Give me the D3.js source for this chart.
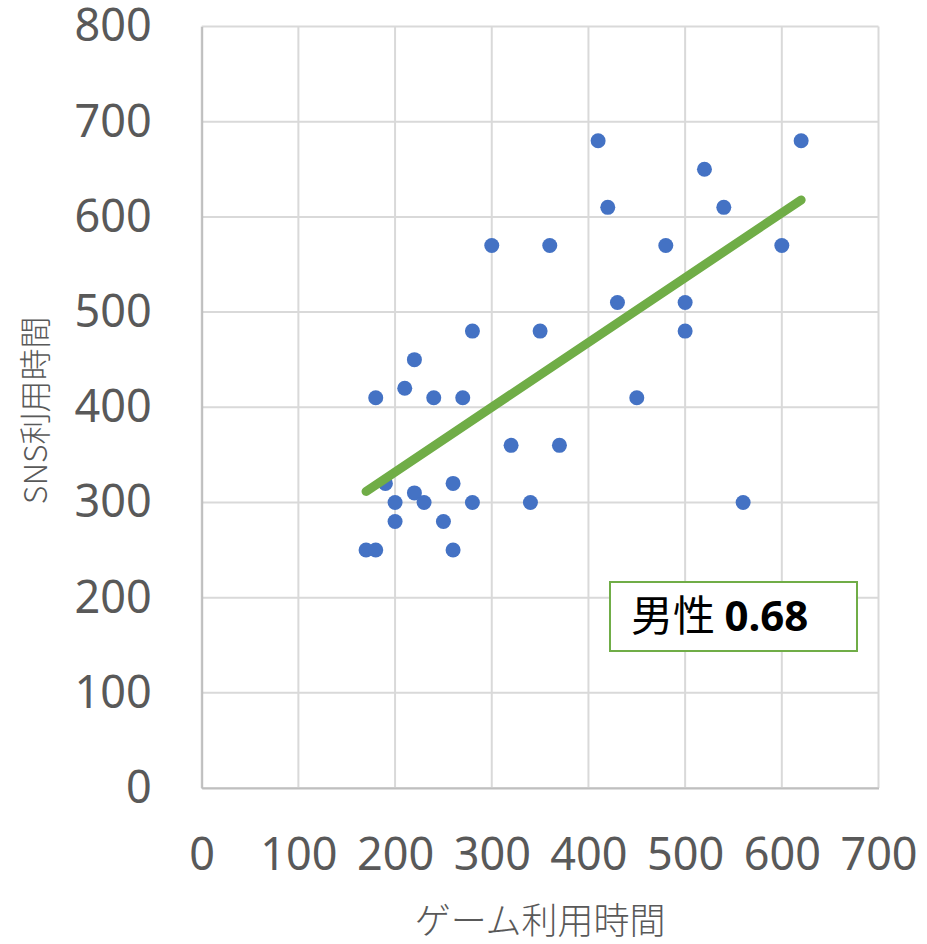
<!DOCTYPE html>
<html lang="ja">
<head>
<meta charset="utf-8">
<title>SNS利用時間 vs ゲーム利用時間</title>
<style>
body { margin: 0; background: #fff; }
.tick text { font-family: "Noto Sans", sans-serif; font-size: 45px; fill: #595959; }
.axisTitle { font-family: "Noto Sans CJK JP", sans-serif; font-weight: 300; fill: #595959; }
</style>
</head>
<body>
<div id="chart"></div>
<script src="https://d3js.org/d3.v7.min.js"></script>
<script>
// game time (x) and SNS time (y) for each respondent
var gameTime = [170, 180, 180, 190, 200, 200, 210, 220, 220, 230, 240, 250, 260, 260, 270, 280, 280,
                300, 320, 340, 350, 360, 370, 410, 420, 430, 450, 480, 500, 500, 520, 540, 560, 600, 620];
var snsTime  = [250, 250, 410, 320, 300, 280, 420, 450, 310, 300, 410, 280, 320, 250, 410, 480, 300,
                570, 360, 300, 480, 570, 360, 680, 610, 510, 410, 570, 510, 480, 650, 610, 300, 570, 680];
var xTicks = [0, 100, 200, 300, 400, 500, 600, 700];
var yTicks = [0, 100, 200, 300, 400, 500, 600, 700, 800];
var labelName = '男性';
var labelValue = '0.68';

var width = 927, height = 944;
var margin = { top: 26.5, right: 48.5, bottom: 156, left: 201.7 };

var svg = d3.select('#chart').append('svg')
  .attr('width', width)
  .attr('height', height);

var x = d3.scaleLinear().domain([0, 700]).range([margin.left, width - margin.right]);
var y = d3.scaleLinear().domain([0, 800]).range([height - margin.bottom, margin.top]);

// gridlines
svg.append('g').selectAll('line').data(xTicks).enter().append('line')
  .attr('x1', function(d) { return x(d); }).attr('x2', function(d) { return x(d); })
  .attr('y1', y(0)).attr('y2', y(800))
  .attr('stroke', '#d9d9d9').attr('stroke-width', 2);
svg.append('g').selectAll('line').data(yTicks).enter().append('line')
  .attr('y1', function(d) { return y(d); }).attr('y2', function(d) { return y(d); })
  .attr('x1', x(0)).attr('x2', x(700))
  .attr('stroke', '#d9d9d9').attr('stroke-width', 2);

// axes
var yAxis = svg.append('g')
  .attr('transform', 'translate(' + x(0) + ',0)')
  .call(d3.axisLeft(y).tickValues(yTicks).tickSize(0).tickPadding(50));
yAxis.select('.domain').attr('stroke', '#bfbfbf').attr('stroke-width', 2);

var xAxis = svg.append('g')
  .attr('transform', 'translate(0,' + y(0) + ')')
  .call(d3.axisBottom(x).tickValues(xTicks).tickSize(0).tickPadding(50));
xAxis.select('.domain').attr('stroke', '#bfbfbf').attr('stroke-width', 2);
xAxis.selectAll('.tick text').attr('dy', '0.71em');

// axis titles
svg.append('text')
  .attr('class', 'axisTitle')
  .attr('x', x(350)).attr('y', 934)
  .attr('text-anchor', 'middle')
  .style('font-size', '36px')
  .text('ゲーム利用時間');
svg.append('text')
  .attr('class', 'axisTitle')
  .attr('transform', 'translate(47,' + (y(400) + 3) + ') rotate(-90)')
  .attr('text-anchor', 'middle')
  .style('font-size', '32px')
  .text('SNS利用時間');

// linear trend line (least squares)
var mx = d3.mean(gameTime), my = d3.mean(snsTime);
var sxy = d3.sum(gameTime, function(d, i) { return (d - mx) * (snsTime[i] - my); });
var sxx = d3.sum(gameTime, function(d) { return (d - mx) * (d - mx); });
var slope = sxy / sxx, icpt = my - slope * mx;
var ext = d3.extent(gameTime);

// points
svg.append('g').selectAll('circle').data(gameTime).enter().append('circle')
  .attr('cx', function(d) { return x(d); })
  .attr('cy', function(d, i) { return y(snsTime[i]); })
  .attr('r', 7.5)
  .attr('fill', '#4472c4');

svg.append('line')
  .attr('x1', x(ext[0])).attr('y1', y(slope * ext[0] + icpt))
  .attr('x2', x(ext[1])).attr('y2', y(slope * ext[1] + icpt))
  .attr('stroke', '#70ad47').attr('stroke-width', 9).attr('stroke-linecap', 'round');

// correlation label
var box = svg.append('g').attr('transform', 'translate(610,582)');
box.append('rect')
  .attr('width', 247).attr('height', 69)
  .attr('fill', '#fff').attr('stroke', '#70ad47').attr('stroke-width', 2);
var lbl = box.append('text')
  .attr('x', 21).attr('y', 49)
  .style('font-size', '42px').attr('fill', '#000');
lbl.append('tspan').style('font-family', '"Noto Sans CJK JP", sans-serif').text(labelName + ' ');
lbl.append('tspan').style('font-family', '"Noto Sans", sans-serif').style('font-weight', 'bold').text(labelValue);
</script>
</body>
</html>
